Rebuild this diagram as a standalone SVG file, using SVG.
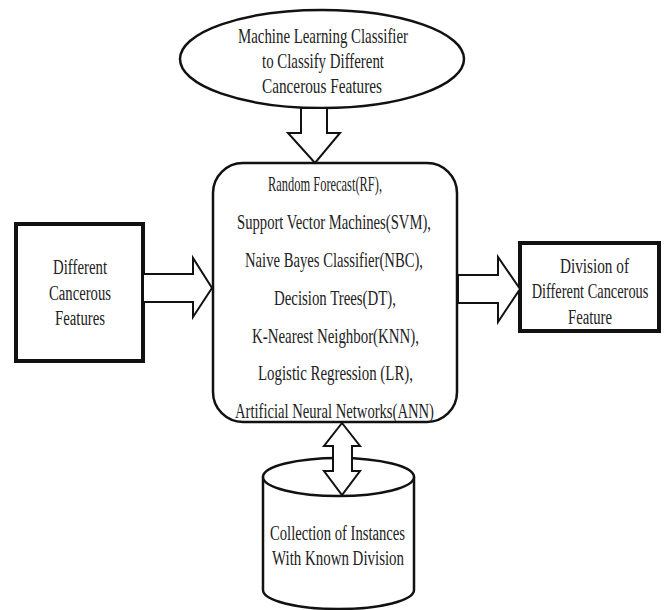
<svg xmlns="http://www.w3.org/2000/svg" width="664" height="610" viewBox="0 0 664 610">
<style>
text{font-family:"Liberation Serif","Times New Roman",serif;fill:#222;font-size:20px;}
.big{font-size:21px;}
.thin{fill:#fff;stroke:#111;stroke-width:2.5;}
.thick{fill:#fff;stroke:#111;stroke-width:4;}
.arr{fill:#fff;stroke:#111;stroke-width:2;stroke-linejoin:miter;}
</style>
<rect width="664" height="610" fill="#fff"/>
<g id="node-ml-classifier">
<ellipse class="thin" cx="322" cy="59" rx="142" ry="49"/>
<text class="big" x="238" y="43" textLength="170" lengthAdjust="spacingAndGlyphs">Machine Learning Classifier</text>
<text class="big" x="262" y="68" textLength="122" lengthAdjust="spacingAndGlyphs">to Classify Different</text>
<text class="big" x="262" y="93" textLength="120" lengthAdjust="spacingAndGlyphs">Cancerous  Features</text>
</g>
<g id="node-algorithms">
<rect class="thin" x="213" y="163" width="244" height="259" rx="30" ry="30"/>
<text class="big" x="268" y="191" textLength="114" lengthAdjust="spacingAndGlyphs">Random Forecast(RF),</text>
<text class="big" x="237" y="229" textLength="194" lengthAdjust="spacingAndGlyphs">Support Vector Machines(SVM),</text>
<text class="big" x="245" y="267" textLength="178" lengthAdjust="spacingAndGlyphs">Naive Bayes Classifier(NBC),</text>
<text class="big" x="274" y="305" textLength="122" lengthAdjust="spacingAndGlyphs">Decision Trees(DT),</text>
<text class="big" x="252" y="343" textLength="167" lengthAdjust="spacingAndGlyphs">K-Nearest Neighbor(KNN),</text>
<text class="big" x="258" y="380" textLength="155" lengthAdjust="spacingAndGlyphs">Logistic Regression (LR),</text>
<text class="big" x="235" y="418" textLength="199" lengthAdjust="spacingAndGlyphs">Artificial Neural Networks(ANN)</text>
</g>
<g id="node-features">
<rect class="thick" x="16" y="224" width="127" height="137"/>
<text x="53" y="274" textLength="54" lengthAdjust="spacingAndGlyphs">Different</text>
<text x="49" y="300" textLength="62" lengthAdjust="spacingAndGlyphs">Cancerous</text>
<text x="55" y="325" textLength="50" lengthAdjust="spacingAndGlyphs">Features</text>
</g>
<g id="node-division">
<rect class="thick" x="520" y="243" width="139" height="88"/>
<text x="560" y="273" textLength="69" lengthAdjust="spacingAndGlyphs">Division of</text>
<text transform="translate(590,298) scale(0.72,1)" text-anchor="middle">Different Cancerous</text>
<text x="568" y="324" textLength="44" lengthAdjust="spacingAndGlyphs">Feature</text>
</g>
<g id="node-instances">
<path class="thin" d="M263,477 L263,590 A75.5,19 0 0 0 414,590 L414,477"/>
<ellipse class="thin" cx="338.5" cy="477" rx="75.5" ry="19"/>
<text x="270" y="540" textLength="135" lengthAdjust="spacingAndGlyphs">Collection of Instances</text>
<text x="272" y="565" textLength="132" lengthAdjust="spacingAndGlyphs">With Known Division</text>
</g>
<g id="connectors">
<path class="arr" d="M301,108 L327,108 L327,133 L340,133 L315,163 L288,133 L301,133 Z"/>
<path class="arr" d="M143,274 L193,274 L193,258 L212,288 L193,317 L193,302 L143,302 Z"/>
<path class="arr" d="M458,275 L498,275 L498,257 L520,289 L498,322 L498,303 L458,303 Z"/>
<path class="arr" d="M342,423 L360,446 L352,446 L352,471 L360,471 L342,495 L324,471 L333,471 L333,446 L324,446 Z"/>
</g>
</svg>
